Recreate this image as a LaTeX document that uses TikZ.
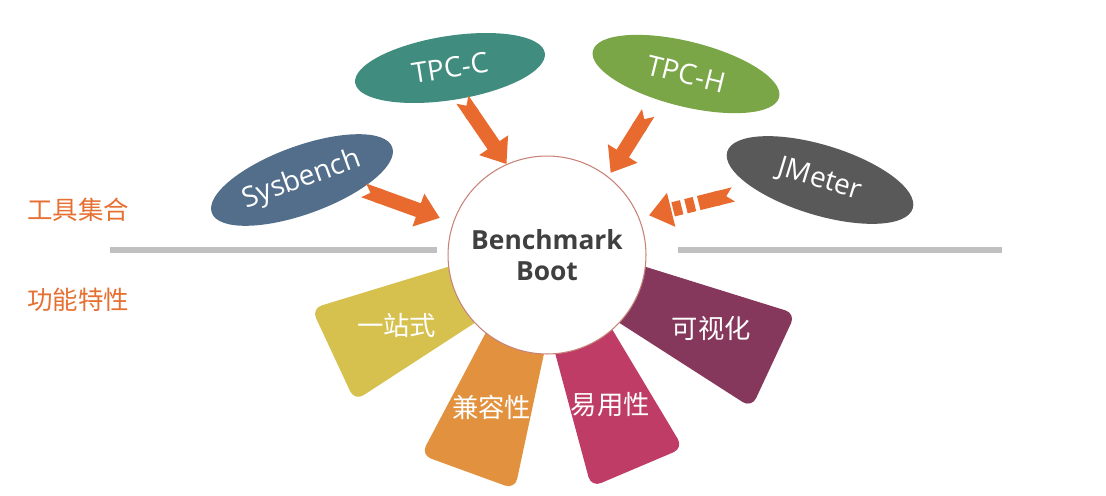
\documentclass[tikz,border=0pt]{standalone}
\usepackage{fontspec}
\setmainfont{Open Sans}
\newfontfamily\cjk{Noto Sans CJK SC}
\usepackage{xcolor}
\usepackage{tikz}
\usetikzlibrary{shapes.geometric, arrows.meta, positioning, calc}
\definecolor{sysblue}{RGB}{83,110,138}
\definecolor{tpccgreen}{RGB}{64,140,126}
\definecolor{tpchgreen}{RGB}{122,166,72}
\definecolor{jmgray}{RGB}{89,89,89}
\definecolor{feedor}{RGB}{232,106,46}
\definecolor{yel}{RGB}{214,192,78}
\definecolor{ora}{RGB}{226,146,62}
\definecolor{mag}{RGB}{190,60,102}
\definecolor{pur}{RGB}{134,56,92}
\definecolor{sectorange}{RGB}{230,112,50}
\definecolor{divgray}{RGB}{192,192,192}
\definecolor{hubline}{RGB}{200,130,120}
\definecolor{hubtext}{RGB}{64,64,64}
\tikzset{
  hub/.style={circle, draw=hubline, line width=0.6pt, fill=white, minimum size=3.96cm, inner sep=0pt, align=center, text=hubtext, font=\bfseries\fontsize{15}{18}\selectfont},
  tool/.style={ellipse, minimum width=3.84cm, minimum height=1.36cm, inner sep=0pt, text=white, font=\fontsize{16}{19}\selectfont},
  feed/.style={line width=8.3pt, draw=feedor, {Triangle Cap[reversed]}-{Triangle[length=13pt, width=19pt]}},
  dashfeed/.style={feed, dash pattern=on 12pt off 2.5pt on 5pt off 2.5pt on 5pt off 2.5pt on 5pt off 40pt},
  petal/.style={rounded corners=6pt},
  feat/.style={text=white, font=\cjk\fontsize{15}{18}\selectfont},
  sect/.style={text=sectorange, font=\cjk\fontsize{14.5}{17}\selectfont},
  divider/.style={draw=divgray, line width=3.4pt},
}
\begin{document}
\begin{tikzpicture}[x=0.02cm, y=0.02cm]
\useasboundingbox (0,0) rectangle (1106,495);
\coordinate (c) at (547,240);
\fill[yel, petal, shift={(c)}, rotate=205] (80,-29) -- (236,-51) -- (236,51) -- (80,29) -- cycle;
\fill[ora, petal, shift={(c)}, rotate=250] (80,-29) -- (231,-50) -- (231,50) -- (80,29) -- cycle;
\fill[mag, petal, shift={(c)}, rotate=293] (80,-29) -- (231,-50) -- (231,50) -- (80,29) -- cycle;
\fill[pur, petal, shift={(c)}, rotate=335] (80,-29) -- (250,-52) -- (250,52) -- (80,29) -- cycle;
\draw[divider] (110,245) -- (437,245);
\draw[divider] (678,245) -- (1002,245);
\node[hub] (bb) at (c) {Benchmark\\Boot};
\node[feat] (onestop) at ($(c)+(205:166)$) {一站式};
\node[feat] (compat) at ($(c)+(250:162)$) {兼容性};
\node[feat] (easy) at ($(c)+(293:162)$) {易用性};
\node[feat] (visual) at ($(c)+(336:180)$) {可视化};
\node[tool, fill=sysblue, rotate=20] (sys) at (302,315) {Sysbench};
\node[tool, fill=tpccgreen, rotate=9, minimum height=1.28cm] (tpcc) at (450,427) {TPC-C};
\node[tool, fill=tpchgreen, rotate=-14, minimum height=1.3cm] (tpch) at (686,421) {TPC-H};
\node[tool, fill=jmgray, rotate=-17, minimum width=3.88cm, minimum height=1.4cm] (jm) at (820,315) {JMeter};
\node[sect] (tools) at (78,285) {工具集合};
\node[sect] (feats) at (78,195) {功能特性};
\draw[feed, shorten <=1.7pt, shorten >=7.9pt] (sys.331) -- (bb.161);
\draw[feed, shorten <=0.6pt] (tpcc.282) -- (bb.114);
\draw[feed, shorten <=9pt, shorten >=2.5pt] (tpch.235) -- (bb.52);
\draw[dashfeed, shorten <=12.5pt, shorten >=5.7pt] (jm.205) -- (bb.22);
\end{tikzpicture}
\end{document}
